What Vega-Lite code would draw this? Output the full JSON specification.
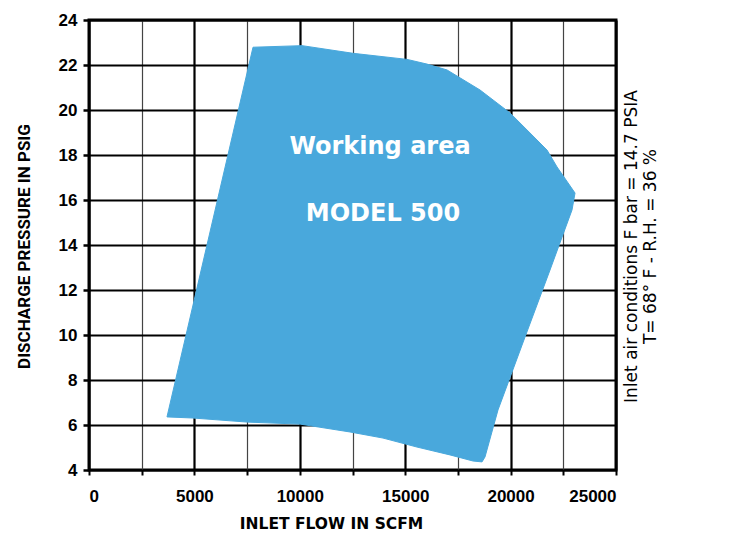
{
  "$schema": "https://vega.github.io/schema/vega-lite/v6.json",
  "width": 527,
  "height": 450,
  "autosize": {"type": "none"},
  "padding": {"left": 89, "top": 20, "right": 130, "bottom": 71},
  "background": "white",
  "config": {
    "view": {"stroke": "black", "strokeWidth": 3},
    "axis": {"labelFont": "Liberation Sans", "labelFontWeight": "bold", "labelColor": "black", "titleColor": "black"}
  },
  "datasets": {
    "area": [
      {"i": 1, "flow": 7780, "psig": 22.79},
      {"i": 2, "flow": 10105, "psig": 22.86},
      {"i": 3, "flow": 12524, "psig": 22.52},
      {"i": 4, "flow": 15086, "psig": 22.25},
      {"i": 5, "flow": 16035, "psig": 22.04},
      {"i": 6, "flow": 16984, "psig": 21.78},
      {"i": 7, "flow": 18549, "psig": 20.89},
      {"i": 8, "flow": 19972, "psig": 19.87},
      {"i": 9, "flow": 20921, "psig": 18.98},
      {"i": 10, "flow": 21728, "psig": 18.22},
      {"i": 11, "flow": 22202, "psig": 17.47},
      {"i": 12, "flow": 23056, "psig": 16.31},
      {"i": 13, "flow": 22914, "psig": 15.56},
      {"i": 14, "flow": 21870, "psig": 12.89},
      {"i": 15, "flow": 20684, "psig": 9.91},
      {"i": 16, "flow": 19403, "psig": 6.67},
      {"i": 17, "flow": 18786, "psig": 4.58},
      {"i": 18, "flow": 18644, "psig": 4.36},
      {"i": 19, "flow": 18217, "psig": 4.40},
      {"i": 20, "flow": 17126, "psig": 4.67},
      {"i": 21, "flow": 15560, "psig": 5.02},
      {"i": 22, "flow": 13947, "psig": 5.42},
      {"i": 23, "flow": 12382, "psig": 5.69},
      {"i": 24, "flow": 10010, "psig": 6.04},
      {"i": 25, "flow": 7496, "psig": 6.13},
      {"i": 26, "flow": 4934, "psig": 6.31},
      {"i": 27, "flow": 3700, "psig": 6.36},
      {"i": 28, "flow": 7780, "psig": 22.79}
    ],
    "labels": [
      {"flow": 13805, "psig": 18.36, "text": "Working area"},
      {"flow": 13947, "psig": 15.38, "text": "MODEL 500"}
    ]
  },
  "layer": [
    {
      "data": {"name": "area"},
      "mark": {"type": "line", "fill": "#49A8DC", "stroke": "#49A8DC", "strokeWidth": 1, "interpolate": "linear"},
      "encoding": {
        "x": {
          "field": "flow", "type": "quantitative",
          "scale": {"domain": [0, 25000], "nice": false},
          "axis": {
            "values": [0, 2500, 5000, 7500, 10000, 12500, 15000, 17500, 20000, 22500, 25000],
            "format": "d",
            "labelExpr": "datum.value % 5000 === 0 ? datum.label : ''",
            "labelFontSize": 17,
            "labelPadding": 13,
            "tickSize": 5,
            "tickWidth": 2,
            "tickColor": "black",
            "domain": false,
            "grid": true,
            "gridColor": {"condition": {"test": "datum.value % 5000 === 0", "value": "black"}, "value": "#444"},
            "gridWidth": {"condition": {"test": "datum.value % 5000 === 0", "value": 2.2}, "value": 1.2},
            "gridOpacity": 1,
            "title": "INLET FLOW IN SCFM",
            "titleFont": "DejaVu Sans",
            "titleFontWeight": "bold",
            "titleFontSize": 15.5,
            "titleX": 242,
            "titleY": 46,
            "titleAlign": "center",
            "titleAnchor": null
          }
        },
        "y": {
          "field": "psig", "type": "quantitative",
          "scale": {"domain": [4, 24], "nice": false, "zero": false},
          "axis": {
            "values": [4, 6, 8, 10, 12, 14, 16, 18, 20, 22, 24],
            "labelFontSize": 17,
            "labelPadding": 6,
            "tickSize": 6,
            "tickWidth": 2.5,
            "tickColor": "black",
            "domain": false,
            "grid": true,
            "gridColor": "black",
            "gridWidth": 2.2,
            "gridOpacity": 1,
            "title": "DISCHARGE PRESSURE IN PSIG",
            "titleFont": "Roboto",
            "titleFontWeight": "bold",
            "titleFontSize": 17,
            "titleAngle": 270,
            "titleX": -65,
            "titleY": 226,
            "titleAlign": "center",
            "titleBaseline": "middle"
          }
        },
        "order": {"field": "i", "type": "quantitative"}
      }
    },
    {
      "data": {"name": "labels"},
      "mark": {"type": "text", "color": "white", "font": "DejaVu Sans", "fontWeight": "bold", "fontSize": 24, "align": "center", "baseline": "middle"},
      "encoding": {
        "x": {"field": "flow", "type": "quantitative"},
        "y": {
          "field": "psig", "type": "quantitative",
          "axis": {
            "orient": "right",
            "labels": false,
            "ticks": false,
            "domain": false,
            "grid": false,
            "title": ["Inlet air conditions  F bar = 14.7 PSIA", "T= 68° F - R.H. = 36 %"],
            "titleFont": "DejaVu Sans",
            "titleFontWeight": 500,
            "titleFontSize": 17,
            "titleLineHeight": 19,
            "titleAngle": 270,
            "titleX": 15,
            "titleY": 226,
            "titleAlign": "center",
            "titleBaseline": "middle"
          }
        },
        "text": {"field": "text", "type": "nominal"}
      }
    }
  ],
  "resolve": {"axis": {"y": "independent"}}
}
